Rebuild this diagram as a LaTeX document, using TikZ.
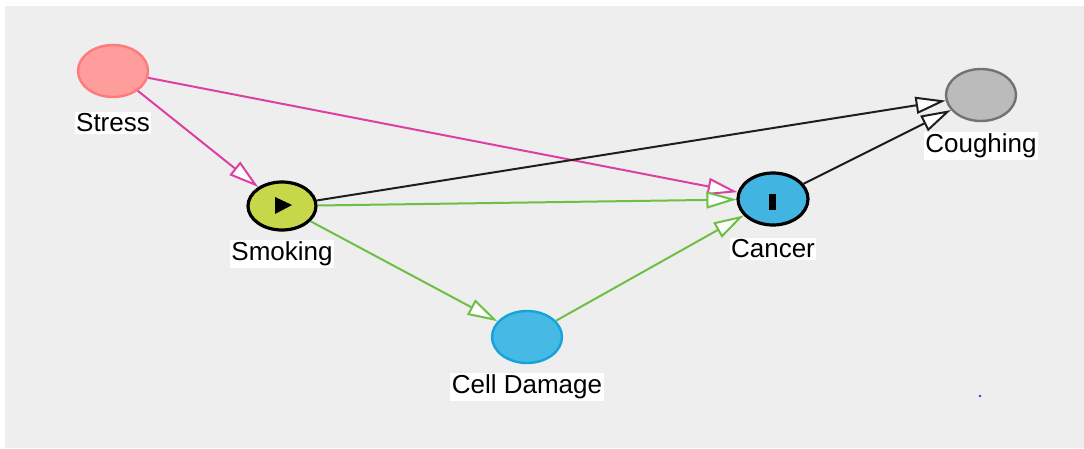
\documentclass[tikz,border=0pt]{standalone}
\usepackage{fontspec}
\setmainfont{Liberation Sans}
\usetikzlibrary{arrows.meta,shapes.geometric,calc}

\definecolor{canvas}{HTML}{EEEEEE}
\definecolor{stressfill}{HTML}{FF9C9C}
\definecolor{stressline}{HTML}{FF7A7A}
\definecolor{smokefill}{HTML}{C6D84A}
\definecolor{cancerfill}{HTML}{42B4E2}
\definecolor{cellfill}{HTML}{46B9E4}
\definecolor{cellline}{HTML}{17A2DA}
\definecolor{coughfill}{HTML}{BBBBBB}
\definecolor{coughline}{HTML}{727272}
\definecolor{linkpink}{HTML}{DD3FA3}
\definecolor{linkgreen}{HTML}{6DBF46}
\definecolor{linkdark}{HTML}{1E1E1E}

\tikzset{
  var/.style={ellipse, minimum width=70pt, minimum height=52pt, inner sep=0pt, line width=2.4pt},
  lbl/.style={fill=white, inner sep=1.5pt, font=\fontsize{26}{28}\selectfont},
  link/.style={line width=2pt, -{Triangle[length=30pt, width=17pt, fill=white]}},
}

\begin{document}
\begin{tikzpicture}[x=1pt, y=-1pt]
  % canvas
  \fill[white] (0,0) rectangle (1084,448);
  \useasboundingbox (0,0) rectangle (1084,448);
  \fill[canvas] (5,6) rectangle (1084,448);

  % variables
  \node[var, fill=stressfill, draw=stressline] (stress) at (113,71) {};
  \node[var, fill=smokefill, draw=black, line width=3.2pt, minimum width=68pt, minimum height=48pt] (smoking) at (282,206) {};
  \node[var, fill=cancerfill, draw=black, line width=3.2pt] (cancer) at (773,199) {};
  \node[var, fill=coughfill, draw=coughline] (cough) at (981,95) {};
  \node[var, fill=cellfill, draw=cellline] (cell) at (527,337) {};

  % exposure / outcome markers
  \fill[black] ($(smoking.center)+(-7,-9)$) -- ($(smoking.center)+(10,-1)$) -- ($(smoking.center)+(-7,8)$) -- cycle;
  \fill[black] (769,194) rectangle (776,210);

  % labels
  \node[lbl] (stresslbl) at (113,123) {Stress};
  \node[lbl] (smokinglbl) at (282,254) {Smoking};
  \node[lbl] (cancerlbl) at (773,249) {Cancer};
  \node[lbl] (coughlbl) at (981,146) {Coughing};
  \node[lbl] (celllbl) at (527,387) {Cell Damage};

  % causal links
  \draw[link, linkpink] (stress) -- (smoking);
  \draw[link, linkpink] (stress) -- (cancer);
  \draw[link, linkdark] (smoking) -- (cough);
  \draw[link, linkgreen] (smoking) -- (cancer);
  \draw[link, linkgreen] (smoking) -- (cell);
  \draw[link, linkgreen] (cell) -- (cancer);
  \draw[link, linkdark] (cancer) -- (cough);

  % stray point
  \fill[blue!80!white] (980,396) circle (1.3pt);
\end{tikzpicture}
\end{document}
